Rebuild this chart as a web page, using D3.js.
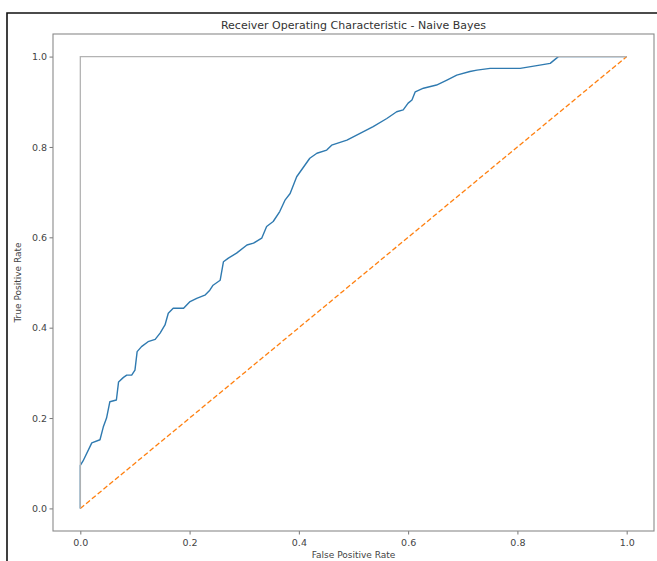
<!DOCTYPE html>
<html>
<head>
<meta charset="utf-8">
<script src="https://cdn.jsdelivr.net/npm/d3@7"></script>
<style>
  html, body { margin: 0; padding: 0; background: #fff; }
  svg { display: block; font-family: "DejaVu Sans", sans-serif; }
</style>
</head>
<body>
<svg id="chart" width="657" height="561"></svg>
<script>
// ROC curve of the Naive Bayes classifier
const fpr = [0, 0, 0.005, 0.021, 0.036, 0.042, 0.048, 0.054, 0.066, 0.07, 0.079, 0.085, 0.094, 0.1, 0.104, 0.112, 0.124, 0.137, 0.146, 0.155, 0.161, 0.17, 0.189, 0.2, 0.213, 0.228, 0.237, 0.243, 0.256, 0.262, 0.271, 0.286, 0.305, 0.317, 0.332, 0.341, 0.353, 0.365, 0.375, 0.384, 0.396, 0.42, 0.433, 0.451, 0.46, 0.488, 0.512, 0.536, 0.561, 0.579, 0.591, 0.6, 0.607, 0.613, 0.628, 0.652, 0.671, 0.689, 0.713, 0.726, 0.75, 0.805, 0.841, 0.86, 0.875, 1.0];
const tpr = [0, 0.095, 0.105, 0.145, 0.152, 0.18, 0.2, 0.236, 0.24, 0.28, 0.29, 0.295, 0.295, 0.306, 0.347, 0.358, 0.369, 0.374, 0.388, 0.406, 0.432, 0.443, 0.443, 0.457, 0.465, 0.472, 0.483, 0.494, 0.505, 0.546, 0.554, 0.565, 0.583, 0.587, 0.598, 0.624, 0.635, 0.657, 0.683, 0.697, 0.734, 0.775, 0.786, 0.793, 0.804, 0.815, 0.83, 0.845, 0.863, 0.878, 0.882, 0.897, 0.904, 0.922, 0.93, 0.937, 0.948, 0.959, 0.967, 0.97, 0.974, 0.974, 0.981, 0.985, 1.0, 1.0];

// Chance diagonal and the ideal classifier outline
const chanceX = [0, 1];
const chanceY = [0, 1];
const idealX = [0, 0, 1];
const idealY = [0, 1, 1];

const xTicks = [0, 0.2, 0.4, 0.6, 0.8, 1.0];
const yTicks = [0, 0.2, 0.4, 0.6, 0.8, 1.0];

const titleText = "Receiver Operating Characteristic - Naive Bayes";
const xLabelText = "False Positive Rate";
const yLabelText = "True Positive Rate";

const svg = d3.select("#chart");

// Outer border of the figure
svg.append("path")
  .attr("d", "M7,561 L7,13 L657,13")
  .attr("fill", "none")
  .attr("stroke", "#111")
  .attr("stroke-width", 1.6);

const plot = { left: 53, right: 654, top: 34, bottom: 531 };

const x = d3.scaleLinear().domain([-0.05, 1.05]).range([plot.left, plot.right]);
const y = d3.scaleLinear().domain([-0.05, 1.05]).range([plot.bottom, plot.top]);

const line = d3.line().x(d => x(d[0])).y(d => y(d[1]));

const g = svg.append("g");

// Clip the series to the axes box
svg.append("defs").append("clipPath").attr("id", "clip")
  .append("rect")
  .attr("x", plot.left).attr("y", plot.top)
  .attr("width", plot.right - plot.left).attr("height", plot.bottom - plot.top);

const series = g.append("g").attr("clip-path", "url(#clip)");

series.append("path")
  .datum(fpr.map((v, i) => [v, tpr[i]]))
  .attr("d", line)
  .attr("fill", "none")
  .attr("stroke", "#2f7ab0")
  .attr("stroke-width", 1.4)
  .attr("stroke-linejoin", "round");

series.append("path")
  .datum(chanceX.map((v, i) => [v, chanceY[i]]))
  .attr("d", line)
  .attr("fill", "none")
  .attr("stroke", "#ff7f0e")
  .attr("stroke-width", 1.3)
  .attr("stroke-dasharray", "5,2.5");

series.append("path")
  .datum(idealX.map((v, i) => [v, idealY[i]]))
  .attr("d", line)
  .attr("fill", "none")
  .attr("stroke", "#b3b3b3")
  .attr("stroke-width", 1.3);

// Axes
const xAxis = d3.axisBottom(x).tickValues(xTicks).tickFormat(d3.format(".1f")).tickSize(3.5).tickSizeOuter(0);
const yAxis = d3.axisLeft(y).tickValues(yTicks).tickFormat(d3.format(".1f")).tickSize(3.5).tickSizeOuter(0);

const gx = g.append("g").attr("transform", `translate(0,${plot.bottom})`).call(xAxis);
const gy = g.append("g").attr("transform", `translate(${plot.left},0)`).call(yAxis);

[gx, gy].forEach(a => {
  a.select(".domain").remove();
  a.selectAll(".tick line").attr("stroke", "#666").attr("stroke-width", 0.9);
  a.selectAll(".tick text").attr("fill", "#444").style("font-size", "9.5px").style("font-family", "DejaVu Sans, sans-serif");
});
gx.selectAll(".tick text").attr("dy", "1em").attr("y", 5);
gy.selectAll(".tick text").attr("x", -6);

// Axes box
g.append("rect")
  .attr("x", plot.left).attr("y", plot.top)
  .attr("width", plot.right - plot.left).attr("height", plot.bottom - plot.top)
  .attr("fill", "none")
  .attr("stroke", "#8a8a8a")
  .attr("stroke-width", 1.1);

// Title and axis labels
svg.append("text")
  .attr("x", (plot.left + plot.right) / 2).attr("y", 29)
  .attr("text-anchor", "middle")
  .attr("fill", "#333")
  .style("font-size", "11px")
  .text(titleText);

svg.append("text")
  .attr("x", (plot.left + plot.right) / 2).attr("y", 558)
  .attr("text-anchor", "middle")
  .attr("fill", "#444")
  .style("font-size", "9px")
  .text(xLabelText);

svg.append("text")
  .attr("transform", `translate(21,${(plot.top + plot.bottom) / 2}) rotate(-90)`)
  .attr("text-anchor", "middle")
  .attr("fill", "#444")
  .style("font-size", "9px")
  .text(yLabelText);
</script>
</body>
</html>
